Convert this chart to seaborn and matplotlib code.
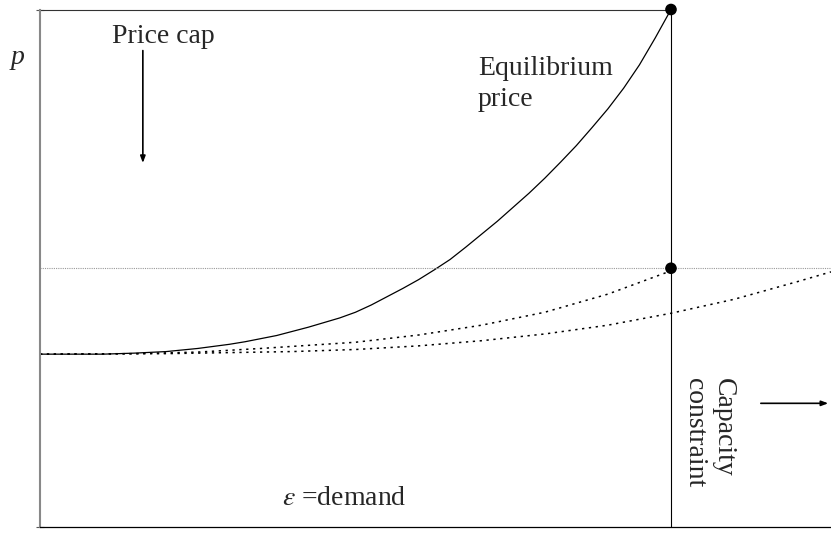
import numpy as np
import pandas as pd
import matplotlib
matplotlib.use('Agg')
import matplotlib.pyplot as plt
import seaborn as sns

# values (demand as share of capacity, price as share of the cap)
demand_eq = [0, 0.1, 0.15, 0.2, 0.25, 0.3, 0.325, 0.35, 0.375, 0.4, 0.425, 0.45, 0.475, 0.5,
             0.525, 0.55, 0.575, 0.6, 0.625, 0.65, 0.675, 0.7, 0.725, 0.75, 0.775, 0.8, 0.825,
             0.85, 0.875, 0.9, 0.925, 0.95, 0.975, 1.0]
price_eq = [0.334, 0.334, 0.336, 0.339, 0.345, 0.353, 0.358, 0.364, 0.370, 0.378, 0.386, 0.395,
            0.404, 0.415, 0.429, 0.445, 0.461, 0.478, 0.497, 0.517, 0.541, 0.566, 0.591, 0.618,
            0.645, 0.674, 0.705, 0.737, 0.772, 0.808, 0.848, 0.893, 0.945, 1.0]

demand_mid = [0, 0.15, 0.25, 0.35, 0.5, 0.6, 0.7, 0.8, 0.9, 1.0]
price_mid = [0.334, 0.335, 0.338, 0.345, 0.357, 0.371, 0.39, 0.415, 0.45, 0.495]

demand_low = [0, 0.2, 0.4, 0.5, 0.6, 0.7, 0.8, 0.9, 1.0, 1.1, 1.2, 1.2536]
price_low = [0.334, 0.335, 0.339, 0.343, 0.35, 0.36, 0.373, 0.39, 0.413, 0.44, 0.474, 0.493]

capacity = 1.0
price_cap = 1.0
cap_level = 0.5
x_max = 1.2536

sns.set_style('white')
plt.rcParams['font.family'] = ['Liberation Serif', 'DejaVu Serif']
plt.rcParams['mathtext.fontset'] = 'stix'

fig = plt.figure(figsize=(8.31, 5.34), dpi=100)
ax = fig.add_axes([40 / 831, 7 / 534, 791 / 831, 517.5 / 534])
ax.set_xlim(0, x_max)
ax.set_ylim(0, 1)

dots = (0, (1.5, 3))
sns.lineplot(x=demand_eq, y=price_eq, ax=ax, color='black', lw=0.9)
sns.lineplot(x=demand_mid, y=price_mid, ax=ax, color='black', lw=1.1, linestyle=dots)
sns.lineplot(x=demand_low, y=price_low, ax=ax, color='black', lw=1.1, linestyle=dots)

ax.axhline(cap_level, color='#999999', lw=0.8, linestyle=(0, (1, 1)))
ax.plot([0, capacity], [price_cap, price_cap], color='#333333', lw=0.8, clip_on=False)
ax.plot([capacity, capacity], [0, price_cap], color='black', lw=0.8, clip_on=False)

pts = pd.DataFrame({'d': [capacity, capacity], 'p': [price_cap, cap_level]})
sns.scatterplot(data=pts, x='d', y='p', ax=ax, color='black', s=70, edgecolor='none',
                zorder=5, clip_on=False)

for s in ['top', 'right']:
    ax.spines[s].set_visible(False)
ax.spines['left'].set_color('#888888')
ax.spines['left'].set_linewidth(1.5)
ax.spines['bottom'].set_color('black')
ax.spines['bottom'].set_linewidth(0.9)
ax.set_xticks([])
ax.set_yticks([0, 1])
ax.set_yticklabels([])
ax.tick_params(axis='y', direction='inout', length=6, width=0.8, color='#555555', left=True)
ax.set_xlabel('')
ax.set_ylabel('')

fs = 20
ax.text(-0.036, 0.908, 'p', style='italic', fontsize=fs, ha='center', va='center', clip_on=False)
ax.text(0.114, 0.935, 'Price cap', fontsize=fs, ha='left', va='baseline')
ax.annotate('', xy=(0.163, 0.698), xytext=(0.163, 0.926),
            arrowprops=dict(arrowstyle='-|>,head_width=0.15,head_length=0.4', color='black', lw=1.2))
ax.text(0.694, 0.91, 'Equilibrium\nprice', fontsize=fs, ha='left', va='top', linespacing=1.3)
ax.text(0.3835, 0.0425, r'$\varepsilon$ =demand', fontsize=fs, ha='left', va='baseline')
ax.text(1.06, 0.288, 'Capacity\nconstraint', fontsize=fs, rotation=-90, ha='center', va='top',
        multialignment='left', linespacing=1.2)
ax.annotate('', xy=(x_max, 0.239), xytext=(1.138, 0.239),
            arrowprops=dict(arrowstyle='-|>,head_width=0.15,head_length=0.4', color='black', lw=1.2),
            annotation_clip=False)

fig.savefig('out.png', dpi=100)
